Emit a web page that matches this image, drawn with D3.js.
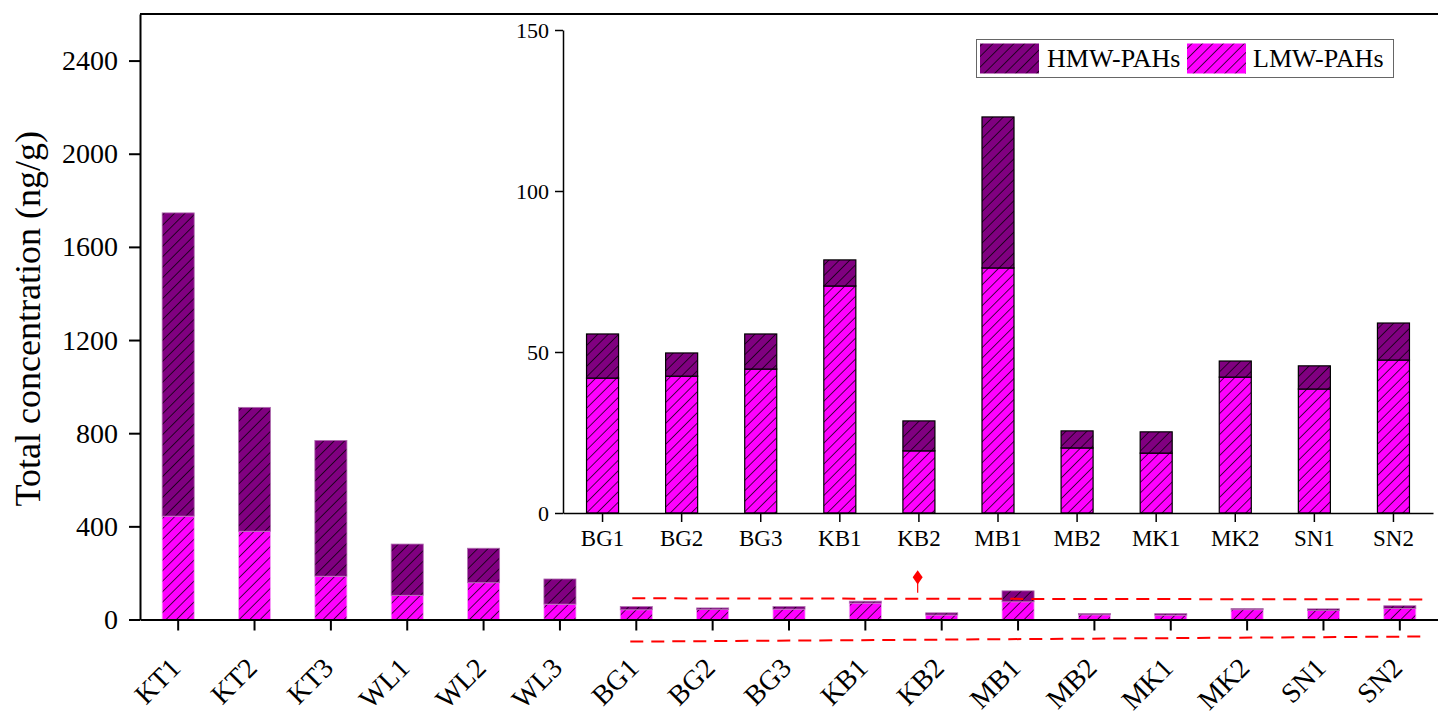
<!DOCTYPE html>
<html>
<head>
<meta charset="utf-8">
<script src="https://cdn.jsdelivr.net/npm/d3@7"></script>
<style>
  html, body { margin: 0; padding: 0; background: #fff; }
  svg { display: block; font-family: "Liberation Serif", "Times New Roman", serif; }
</style>
</head>
<body>
<svg id="chart" width="1438" height="718"></svg>
<script>
// Sampling sites (all) and the subset shown enlarged in the inset
const sites = ["KT1","KT2","KT3","WL1","WL2","WL3","BG1","BG2","BG3","KB1","KB2","MB1","MB2","MK1","MK2","SN1","SN2"];
const insetSites = ["BG1","BG2","BG3","KB1","KB2","MB1","MB2","MK1","MK2","SN1","SN2"];

// Low- and high-molecular-weight PAHs (ng/g), stacked LMW below HMW
const lmw = [444, 379, 186, 104, 158, 66, 41.9, 42.5, 44.7, 70.5, 19.3, 76.1, 20.2, 18.6, 42.2, 38.5, 47.5];
const hmw = [1302, 532, 583, 220, 148, 108, 13.7, 7.2, 10.9, 8.1, 9.3, 46.9, 5.3, 6.6, 5.0, 7.2, 11.5];

const mainTicks = [0, 400, 800, 1200, 1600, 2000, 2400];
const insetTicks = [0, 50, 100, 150];
const seriesNames = ["HMW-PAHs", "LMW-PAHs"];

const rows = sites.map((s, i) => ({ site: s, lmw: lmw[i], hmw: hmw[i] }));
const insetRows = rows.filter(r => insetSites.includes(r.site));

const svg = d3.select("#chart");
const FONT = "Liberation Serif";
const HMW_COL = "#800080", LMW_COL = "#ff00ff";

// diagonal hatch patterns
const defs = svg.append("defs");
function hatch(id, bg) {
  const p = defs.append("pattern")
    .attr("id", id)
    .attr("patternUnits", "userSpaceOnUse")
    .attr("width", 7.4).attr("height", 7.4)
    .attr("patternTransform", "rotate(45)");
  p.append("rect").attr("width", 7.4).attr("height", 7.4).attr("fill", bg);
  p.append("line").attr("x1", 0).attr("y1", 0).attr("x2", 0).attr("y2", 7.4)
    .attr("stroke", "#000").attr("stroke-width", 1.4);
}
hatch("hatchH", HMW_COL);
hatch("hatchL", LMW_COL);

// ---------- main panel ----------
const M = { left: 140, right: 1438, top: 14, bottom: 619.5 };
const x = d3.scaleBand().domain(sites).range([M.left, M.right]).paddingInner(0.58).paddingOuter(0.29);
const y = d3.scaleLinear().domain([0, 2600]).range([M.bottom, M.top]);

const gMain = svg.append("g");
gMain.selectAll("rect.l").data(rows).join("rect")
  .attr("class", "l")
  .attr("x", d => x(d.site)).attr("width", x.bandwidth())
  .attr("y", d => y(d.lmw)).attr("height", d => y(0) - y(d.lmw))
  .attr("fill", "url(#hatchL)")
  .attr("stroke", "#f4a8f4").attr("stroke-width", 0.8);
gMain.selectAll("rect.h").data(rows).join("rect")
  .attr("class", "h")
  .attr("x", d => x(d.site)).attr("width", x.bandwidth())
  .attr("y", d => y(d.lmw + d.hmw)).attr("height", d => y(d.lmw) - y(d.lmw + d.hmw))
  .attr("fill", "url(#hatchH)")
  .attr("stroke", "#b070b0").attr("stroke-width", 0.8);

// frame top line
svg.append("line").attr("x1", M.left).attr("x2", M.right).attr("y1", M.top).attr("y2", M.top)
  .attr("stroke", "#000").attr("stroke-width", 2);

const yAxis = svg.append("g").attr("transform", `translate(${M.left},0)`)
  .call(d3.axisLeft(y).tickValues(mainTicks).tickFormat(d3.format("d"))
    .tickSize(11).tickPadding(11).tickSizeOuter(0));
yAxis.select(".domain").attr("stroke-width", 2);
yAxis.selectAll(".tick line").attr("stroke-width", 2);
yAxis.selectAll("text").attr("font-size", 28).attr("font-family", FONT).attr("fill", "#000");

const xAxis = svg.append("g").attr("transform", `translate(0,${M.bottom})`)
  .call(d3.axisBottom(x).tickSize(11).tickSizeOuter(0));
xAxis.select(".domain").attr("stroke-width", 2);
xAxis.selectAll(".tick line").attr("stroke-width", 2);
xAxis.selectAll("text")
  .attr("font-size", 28).attr("font-family", FONT).attr("fill", "#000")
  .attr("text-anchor", "end").attr("dy", null)
  .attr("y", 0)
  .attr("transform", "translate(4,50) rotate(-45)");

svg.append("text")
  .attr("transform", `translate(40,${(M.top + M.bottom) / 2 + 2}) rotate(-90)`)
  .attr("text-anchor", "middle")
  .attr("font-family", FONT)
  .attr("font-size", 36)
  .text("Total concentration (ng/g)");

// guide lines linking the small bars to the inset
const red = "#ff0000";
const firstX = x("BG1") + x.bandwidth() / 2, lastX = x("SN2") + x.bandwidth() / 2;
svg.append("line")
  .attr("x1", firstX - 4).attr("y1", y(91))
  .attr("x2", lastX + 30).attr("y2", y(86))
  .attr("stroke", red).attr("stroke-width", 2).attr("stroke-dasharray", "13,8");
svg.append("line")
  .attr("x1", firstX - 6).attr("y1", y(-95))
  .attr("x2", lastX + 22).attr("y2", y(-73))
  .attr("stroke", red).attr("stroke-width", 2).attr("stroke-dasharray", "13,8");
const markX = x("KB2") - 8;
svg.append("line").attr("x1", markX).attr("x2", markX).attr("y1", y(180)).attr("y2", y(115))
  .attr("stroke", red).attr("stroke-width", 1.2);
svg.append("path")
  .attr("d", d3.symbol(d3.symbolDiamond, 60)())
  .attr("transform", `translate(${markX},${y(181)}) scale(1.2,1)`)
  .attr("fill", red);

// ---------- inset panel ----------
const I = { left: 563, right: 1433, top: 30, bottom: 513 };
const xi = d3.scaleBand().domain(insetSites).range([I.left, I.right]).paddingInner(0.595).paddingOuter(0.2975);
const yi = d3.scaleLinear().domain([0, 150]).range([I.bottom, I.top]);

const gIn = svg.append("g");
gIn.selectAll("rect.l").data(insetRows).join("rect")
  .attr("class", "l")
  .attr("x", d => xi(d.site)).attr("width", xi.bandwidth())
  .attr("y", d => yi(d.lmw)).attr("height", d => yi(0) - yi(d.lmw))
  .attr("fill", "url(#hatchL)").attr("stroke", "#000").attr("stroke-width", 1.2);
gIn.selectAll("rect.h").data(insetRows).join("rect")
  .attr("class", "h")
  .attr("x", d => xi(d.site)).attr("width", xi.bandwidth())
  .attr("y", d => yi(d.lmw + d.hmw)).attr("height", d => yi(d.lmw) - yi(d.lmw + d.hmw))
  .attr("fill", "url(#hatchH)").attr("stroke", "#000").attr("stroke-width", 1.2);

const yiAxis = svg.append("g").attr("transform", `translate(${I.left},0)`)
  .call(d3.axisLeft(yi).tickValues(insetTicks).tickSize(8).tickPadding(6).tickSizeOuter(0));
yiAxis.select(".domain").attr("stroke-width", 1.5);
yiAxis.selectAll(".tick line").attr("stroke-width", 1.5);
yiAxis.selectAll("text").attr("font-size", 22).attr("font-family", FONT).attr("fill", "#000");

const xiAxis = svg.append("g").attr("transform", `translate(0,${I.bottom})`)
  .call(d3.axisBottom(xi).tickSize(9).tickPadding(8).tickSizeOuter(0));
xiAxis.select(".domain").attr("stroke-width", 1.5);
xiAxis.selectAll(".tick line").attr("stroke-width", 1.5);
xiAxis.selectAll("text").attr("font-size", 23).attr("font-family", FONT).attr("fill", "#000");

// legend
const lg = svg.append("g");
lg.append("rect").attr("x", 976.5).attr("y", 39.5).attr("width", 417).attr("height", 38)
  .attr("fill", "#fff").attr("stroke", "#666").attr("stroke-width", 1);
const legendItems = [
  { name: seriesNames[0], fill: "url(#hatchH)", sx: 980, tx: 1047 },
  { name: seriesNames[1], fill: "url(#hatchL)", sx: 1187, tx: 1253 }
];
legendItems.forEach(it => {
  lg.append("rect").attr("x", it.sx).attr("y", 43.5).attr("width", 59).attr("height", 30)
    .attr("fill", it.fill);
  lg.append("text").attr("x", it.tx).attr("y", 67).attr("font-family", FONT)
    .attr("font-size", 26).text(it.name);
});
</script>
</body>
</html>
